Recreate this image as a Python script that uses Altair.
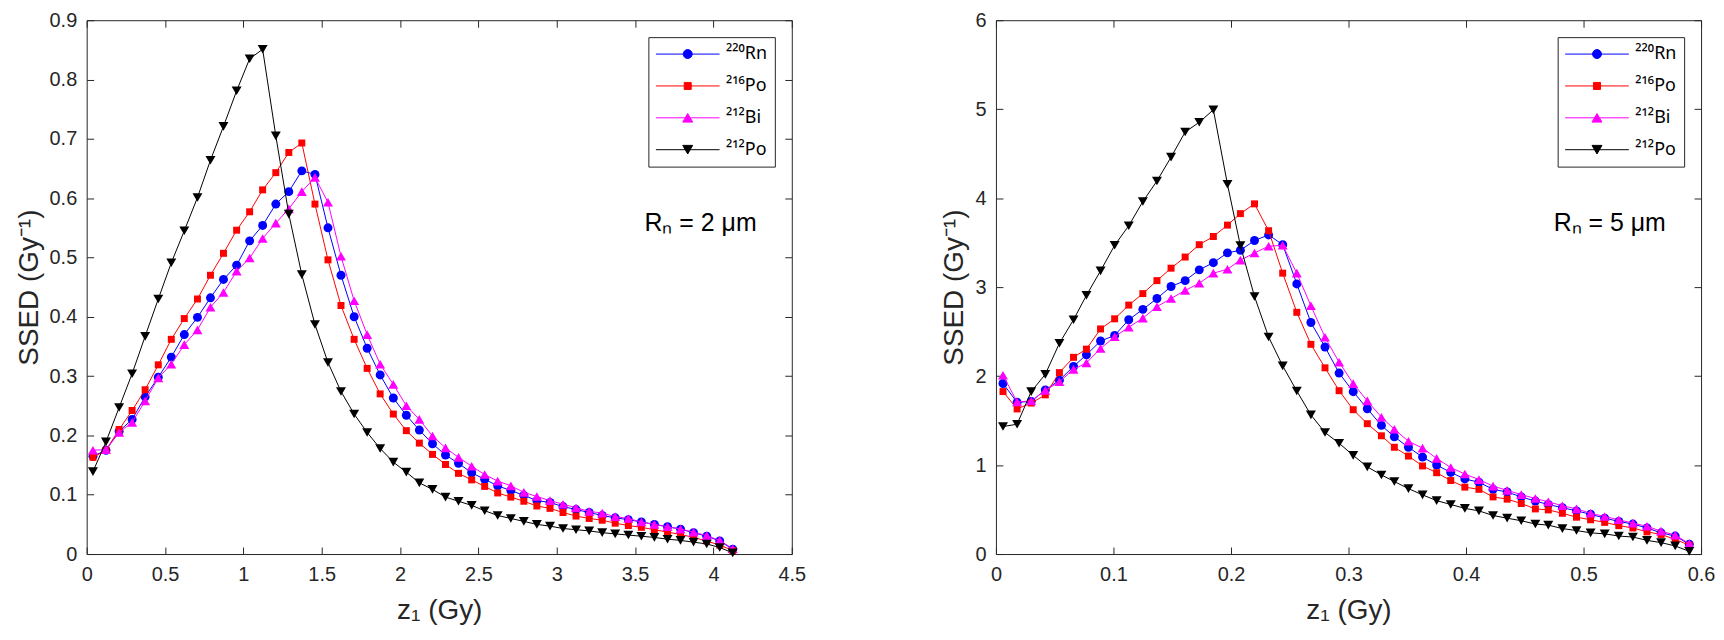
import altair as alt
import pandas as pd

# ---------------- data ----------------
SERIES = ["²²⁰Rn", "²¹⁶Po", "²¹²Bi", "²¹²Po"]
COLORS = ["#0000FF", "#FF0000", "#FF00FF", "#000000"]
SHAPES = ["circle", "square", "triangle-up", "triangle-down"]
SIZES = [81, 49, 100, 100]
# legend symbols: a line segment through the marker
LEGEND_PATHS = [
    "M-1,0H1M0.14,0A0.14,0.14,0,1,1,-0.14,0A0.14,0.14,0,1,1,0.14,0Z",
    "M-1,0H1M-0.11,-0.11H0.11V0.11H-0.11Z",
    "M-1,0H1M0,-0.135L0.156,0.135H-0.156Z",
    "M-1,0H1M0,0.135L0.156,-0.135H-0.156Z",
]

Z1_LEFT = [0.04, 0.123, 0.207, 0.29, 0.373, 0.457, 0.54, 0.623, 0.707, 0.79,
           0.873, 0.957, 1.04, 1.123, 1.207, 1.29, 1.373, 1.457, 1.54, 1.623,
           1.707, 1.79, 1.873, 1.957, 2.04, 2.123, 2.207, 2.29, 2.373, 2.457,
           2.54, 2.623, 2.707, 2.79, 2.873, 2.957, 3.04, 3.123, 3.207, 3.29,
           3.373, 3.457, 3.54, 3.623, 3.707, 3.79, 3.873, 3.957, 4.04, 4.123]
RN220_LEFT = [0.165, 0.175, 0.207, 0.227, 0.265, 0.298, 0.332, 0.370, 0.399, 0.432,
              0.463, 0.487, 0.528, 0.554, 0.590, 0.611, 0.646, 0.640, 0.550, 0.470,
              0.400, 0.347, 0.302, 0.263, 0.234, 0.209, 0.186, 0.167, 0.153, 0.137,
              0.126, 0.115, 0.107, 0.099, 0.090, 0.087, 0.080, 0.075, 0.070, 0.065,
              0.061, 0.058, 0.054, 0.050, 0.046, 0.042, 0.036, 0.030, 0.022, 0.008]
PO216_LEFT = [0.163, 0.175, 0.210, 0.242, 0.277, 0.319, 0.362, 0.397, 0.430, 0.470,
              0.507, 0.546, 0.577, 0.614, 0.643, 0.677, 0.693, 0.590, 0.496, 0.419,
              0.362, 0.313, 0.270, 0.236, 0.208, 0.187, 0.168, 0.151, 0.136, 0.125,
              0.114, 0.103, 0.096, 0.089, 0.081, 0.077, 0.070, 0.064, 0.060, 0.057,
              0.052, 0.048, 0.045, 0.041, 0.037, 0.033, 0.028, 0.022, 0.015, 0.006]
BI212_LEFT = [0.175, 0.176, 0.205, 0.222, 0.258, 0.297, 0.320, 0.353, 0.378, 0.416,
              0.441, 0.477, 0.499, 0.532, 0.558, 0.582, 0.611, 0.635, 0.593, 0.502,
              0.427, 0.370, 0.320, 0.286, 0.250, 0.227, 0.199, 0.179, 0.163, 0.148,
              0.134, 0.123, 0.115, 0.104, 0.097, 0.090, 0.084, 0.078, 0.072, 0.069,
              0.063, 0.060, 0.054, 0.050, 0.046, 0.042, 0.037, 0.031, 0.023, 0.009]
PO212_LEFT = [0.139, 0.189, 0.247, 0.304, 0.367, 0.430, 0.491, 0.545, 0.601, 0.664,
              0.721, 0.781, 0.835, 0.851, 0.705, 0.573, 0.471, 0.387, 0.323, 0.274,
              0.236, 0.205, 0.178, 0.155, 0.138, 0.120, 0.109, 0.096, 0.089, 0.082,
              0.073, 0.065, 0.060, 0.055, 0.050, 0.047, 0.043, 0.041, 0.039, 0.036,
              0.034, 0.032, 0.030, 0.028, 0.025, 0.023, 0.020, 0.017, 0.011, 0.002]

Z1_RIGHT = [0.006, 0.018, 0.030, 0.042, 0.054, 0.066, 0.077, 0.089, 0.101, 0.113,
            0.125, 0.137, 0.149, 0.161, 0.173, 0.185, 0.197, 0.208, 0.220, 0.232,
            0.244, 0.256, 0.268, 0.280, 0.292, 0.304, 0.316, 0.328, 0.339, 0.351,
            0.363, 0.375, 0.387, 0.399, 0.411, 0.423, 0.435, 0.447, 0.459, 0.470,
            0.482, 0.494, 0.506, 0.518, 0.530, 0.542, 0.554, 0.566, 0.578, 0.590]
RN220_RIGHT = [1.917, 1.705, 1.716, 1.844, 1.954, 2.108, 2.240, 2.394, 2.457, 2.633,
               2.750, 2.872, 3.007, 3.073, 3.194, 3.275, 3.385, 3.414, 3.524, 3.587,
               3.477, 3.036, 2.602, 2.327, 2.034, 1.825, 1.633, 1.446, 1.318, 1.200,
               1.090, 1.000, 0.917, 0.844, 0.807, 0.727, 0.697, 0.642, 0.595, 0.557,
               0.521, 0.485, 0.447, 0.403, 0.367, 0.337, 0.293, 0.238, 0.202, 0.110]
PO216_RIGHT = [1.826, 1.631, 1.697, 1.789, 2.039, 2.211, 2.303, 2.530, 2.644, 2.798,
               2.927, 3.073, 3.213, 3.338, 3.477, 3.569, 3.697, 3.826, 3.936, 3.634,
               3.157, 2.717, 2.357, 2.093, 1.836, 1.622, 1.465, 1.329, 1.200, 1.101,
               0.990, 0.914, 0.826, 0.752, 0.727, 0.642, 0.617, 0.568, 0.507, 0.496,
               0.458, 0.414, 0.385, 0.356, 0.319, 0.293, 0.249, 0.220, 0.165, 0.099]
BI212_RIGHT = [2.009, 1.710, 1.720, 1.840, 1.936, 2.075, 2.149, 2.310, 2.442, 2.549,
               2.651, 2.780, 2.872, 2.963, 3.043, 3.157, 3.201, 3.304, 3.384, 3.460,
               3.470, 3.157, 2.790, 2.437, 2.155, 1.916, 1.721, 1.538, 1.402, 1.267,
               1.191, 1.075, 0.972, 0.899, 0.837, 0.763, 0.716, 0.668, 0.624, 0.587,
               0.543, 0.507, 0.458, 0.422, 0.385, 0.348, 0.312, 0.257, 0.213, 0.117]
PO212_RIGHT = [1.433, 1.459, 1.826, 2.020, 2.369, 2.633, 2.908, 3.183, 3.470, 3.690,
               3.962, 4.193, 4.461, 4.743, 4.853, 4.993, 4.156, 3.466, 2.895, 2.440,
               2.115, 1.832, 1.564, 1.366, 1.245, 1.109, 0.980, 0.889, 0.815, 0.735,
               0.665, 0.600, 0.557, 0.513, 0.485, 0.433, 0.403, 0.374, 0.337, 0.325,
               0.286, 0.264, 0.238, 0.227, 0.202, 0.191, 0.154, 0.128, 0.091, 0.030]

XTICKS_LEFT = [0, 0.5, 1, 1.5, 2, 2.5, 3, 3.5, 4, 4.5]
YTICKS_LEFT = [0, 0.1, 0.2, 0.3, 0.4, 0.5, 0.6, 0.7, 0.8, 0.9]
XTICKS_RIGHT = [0, 0.1, 0.2, 0.3, 0.4, 0.5, 0.6]
YTICKS_RIGHT = [0, 1, 2, 3, 4, 5, 6]

X_TITLE = "z₁ (Gy)"
Y_TITLE = "SSED (Gy⁻¹)"
ANNOT_LEFT = "Rₙ = 2 μm"
ANNOT_RIGHT = "Rₙ = 5 μm"

# ---------------- style ----------------
W, H = 708, 536
AX = "#262626"
FONT = "Liberation Sans, Arial, Helvetica, sans-serif"
LEGEND_FONT = "Noto Sans, DejaVu Sans, sans-serif"


def tick_axis(orient, offset, values):
    return alt.Axis(orient=orient, offset=offset, values=values, labels=False,
                    ticks=True, tickSize=7, tickColor=AX, tickWidth=1,
                    domain=False, grid=False, title=None)


def panel(z1, series_vals, xdom, ydom, xt, yt, annot, annot_pos):
    rows = []
    for name, vals in zip(SERIES, series_vals):
        for x, y in zip(z1, vals):
            rows.append({"z1": x, "ssed": y, "series": name})
    df = pd.DataFrame(rows)
    base = alt.Chart(df)
    xs = alt.Scale(domain=xdom, nice=False, zero=False)
    ys = alt.Scale(domain=ydom, nice=False, zero=False)

    x_label_axis = alt.Axis(orient="bottom", values=xt, format="~g", ticks=False,
                            tickSize=0, domain=False, grid=False, labelPadding=11,
                            labelFontSize=20, labelColor=AX, labelFlush=False,
                            labelOverlap=False, title=X_TITLE, titleFontSize=28,
                            titleFontWeight="normal", titleColor=AX, titlePadding=12)
    y_label_axis = alt.Axis(orient="left", values=yt, format="~g", ticks=False,
                            tickSize=0, domain=False, grid=False, labelPadding=10,
                            labelFontSize=20, labelColor=AX, labelFlush=False,
                            labelOverlap=False, title=Y_TITLE, titleFontSize=28,
                            titleFontWeight="normal", titleColor=AX, titlePadding=6)

    layers = []
    for k, (name, color, shape, size) in enumerate(zip(SERIES, COLORS, SHAPES, SIZES)):
        sub = base.transform_filter(alt.datum.series == name)
        if k == 0:
            xenc = alt.X("z1:Q", scale=xs, axis=x_label_axis)
            yenc = alt.Y("ssed:Q", scale=ys, axis=y_label_axis)
        else:
            xenc = alt.X("z1:Q", scale=xs, axis=None)
            yenc = alt.Y("ssed:Q", scale=ys, axis=None)
        line = sub.mark_line(color=color, strokeWidth=1).encode(
            x=xenc, y=yenc, order="z1:Q")
        pts = sub.mark_point(shape=shape, filled=True, color=color, size=size,
                             opacity=1, strokeWidth=1).encode(
            x=alt.X("z1:Q", scale=xs, axis=None),
            y=alt.Y("ssed:Q", scale=ys, axis=None))
        layers += [line, pts]

    leg = alt.Legend(title=None, orient="top-right", offset=17, padding=7,
                     rowPadding=12, clipHeight=20, symbolSize=4096,
                     symbolStrokeWidth=1, symbolOpacity=1, labelFontSize=18,
                     labelFont=LEGEND_FONT,
                     labelOffset=6, labelColor="black", labelLimit=300,
                     strokeColor=AX, fillColor="white", cornerRadius=0)
    legend_layer = base.transform_filter("false").mark_point(
        filled=True, opacity=1, strokeWidth=1).encode(
        x=alt.X("z1:Q", scale=xs, axis=None),
        y=alt.Y("ssed:Q", scale=ys, axis=None),
        fill=alt.Fill("series:N", scale=alt.Scale(domain=SERIES, range=COLORS), legend=leg),
        stroke=alt.Stroke("series:N", scale=alt.Scale(domain=SERIES, range=COLORS), legend=leg),
        shape=alt.Shape("series:N", scale=alt.Scale(domain=SERIES, range=LEGEND_PATHS), legend=leg),
    )
    layers.append(legend_layer)

    ann = alt.Chart(pd.DataFrame({"label": [annot]})).mark_text(
        align="left", baseline="middle", fontSize=25, color="black").encode(
        x=alt.X(datum=annot_pos[0], scale=xs, axis=None),
        y=alt.Y(datum=annot_pos[1], scale=ys, axis=None),
        text="label:N")
    layers.append(ann)

    ticks_a = base.transform_filter("false").mark_point().encode(
        x=alt.X("z1:Q", scale=xs, axis=tick_axis("top", -H, xt)),
        y=alt.Y("ssed:Q", scale=ys, axis=tick_axis("right", -W, yt)))
    ticks_b = base.transform_filter("false").mark_point().encode(
        x=alt.X("z1:Q", scale=xs, axis=tick_axis("bottom", -H, xt)),
        y=alt.Y("ssed:Q", scale=ys, axis=tick_axis("left", -W, yt)))
    layers += [ticks_a, ticks_b]

    return alt.layer(*layers).resolve_axis(x="independent", y="independent").properties(
        width=W, height=H)


left = panel(Z1_LEFT, [RN220_LEFT, PO216_LEFT, BI212_LEFT, PO212_LEFT],
             [0, 4.5], [0, 0.9], XTICKS_LEFT, YTICKS_LEFT, ANNOT_LEFT, (3.56, 0.558))
right = panel(Z1_RIGHT, [RN220_RIGHT, PO216_RIGHT, BI212_RIGHT, PO212_RIGHT],
              [0, 0.6], [0, 6], XTICKS_RIGHT, YTICKS_RIGHT, ANNOT_RIGHT, (0.4746, 3.72))

chart = alt.hconcat(left, right, spacing=134).resolve_scale(
    x="independent", y="independent", fill="independent", stroke="independent",
    shape="independent").resolve_legend(
    fill="independent", stroke="independent", shape="independent").properties(
    padding={"left": 6, "top": 0, "right": 0, "bottom": 0}
).configure(font=FONT).configure_view(stroke=AX, strokeWidth=1)

chart.save("out.html", embed_options={"renderer": "svg", "actions": False})
